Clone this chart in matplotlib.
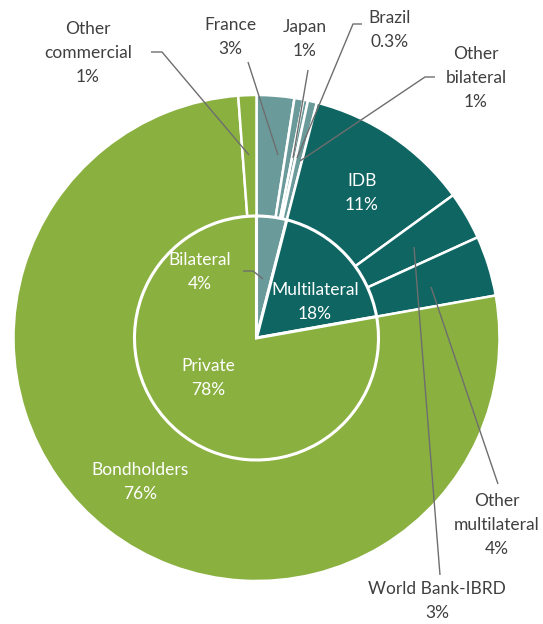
import matplotlib
matplotlib.use('Agg')
import matplotlib.pyplot as plt

plt.rcParams['font.family'] = ['Lato', 'DejaVu Sans']

W, H = 543, 624

# outer ring: creditors (clockwise from top)
outer_labels = ['France', 'Japan', 'Brazil', 'Other\nbilateral',
                'IDB', 'World Bank-IBRD', 'Other\nmultilateral',
                'Bondholders', 'Other\ncommercial']
outer_values = [2.5, 0.6, 0.3, 0.6, 11.0, 3.2, 4.0, 76.6, 1.2]
outer_pct = ['3%', '1%', '0.3%', '1%', '11%', '3%', '4%', '76%', '1%']

# inner pie: creditor groups
inner_labels = ['Bilateral', 'Multilateral', 'Private']
inner_values = [4.0, 18.2, 77.8]
inner_pct = ['4%', '18%', '78%']

c_bil = '#6B9A9B'
c_mul = '#0E6562'
c_pri = '#8AB040'
outer_colors = [c_bil] * 4 + [c_mul] * 3 + [c_pri] * 2
inner_colors = [c_bil, c_mul, c_pri]

def px(x, y):
    # pixel position of the reference -> data coords
    return x, H - y

fig = plt.figure(figsize=(W / 100, H / 100), dpi=100)
ax = fig.add_axes([0, 0, 1, 1])
ax.set_xlim(0, W)
ax.set_ylim(0, H)
ax.set_aspect('equal')
ax.axis('off')

centre = px(256.5, 338)
ax.pie(outer_values, colors=outer_colors, radius=243, center=centre,
       startangle=90, counterclock=False,
       wedgeprops=dict(edgecolor='white', linewidth=1.8))
ax.pie(inner_values, colors=inner_colors, radius=122, center=centre,
       startangle=90, counterclock=False,
       wedgeprops=dict(edgecolor='white', linewidth=2.2))
ax.set_xlim(0, W)
ax.set_ylim(0, H)

txt = '#404040'
lc = '#6E6E6E'
fs = 12.5
ls = 1.6

# labels inside the chart (white)
inside = {
    'Bilateral': (200, 272, inner_labels[0] + '\n' + inner_pct[0]),
    'Multilateral': (315, 302, inner_labels[1] + '\n' + inner_pct[1]),
    'Private': (208, 378, inner_labels[2] + '\n' + inner_pct[2]),
    'IDB': (362, 193, outer_labels[4] + '\n' + outer_pct[4]),
    'Bondholders': (140, 482, outer_labels[7] + '\n' + outer_pct[7]),
}
for k, (x, y, s) in inside.items():
    ax.text(*px(x, y), s, color='white', fontsize=fs, ha='center', va='center',
            linespacing=ls)

# labels outside the chart
outside = [
    (8, 88, 53), (0, 230, 37), (1, 305, 39), (2, 390, 30),
    (3, 476, 78), (6, 497, 525), (5, 437, 601),
]
for i, x, y in outside:
    ax.text(*px(x, y), outer_labels[i] + '\n' + outer_pct[i], color=txt,
            fontsize=fs, ha='center', va='center', linespacing=ls)

# leader lines
leaders = [
    [(151, 52), (162, 52), (249, 155)],
    [(248, 62), (278, 155)],
    [(308, 70), (293, 158)],
    [(362, 24), (353, 24), (297, 158)],
    [(435, 77), (425, 77), (300, 161)],
    [(498, 484), (431, 287)],
    [(440, 575), (414, 247)],
    [(243, 271), (253, 271), (263, 279)],
]
for pts in leaders:
    xs = [p[0] for p in pts]
    ys = [H - p[1] for p in pts]
    ax.plot(xs, ys, color=lc, lw=1.0, solid_capstyle='butt')

fig.savefig('out.png', dpi=100, facecolor='white')
